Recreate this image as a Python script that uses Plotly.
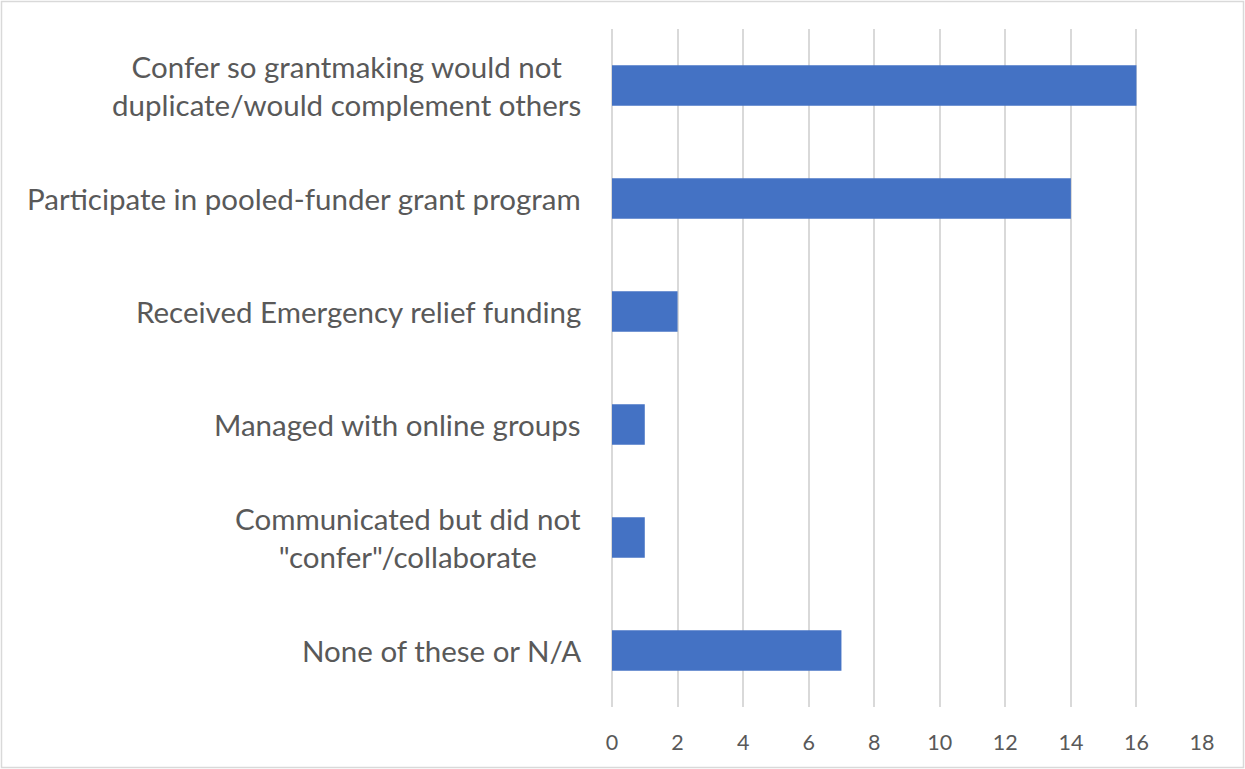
import plotly.graph_objects as go

# Данные (сверху вниз)
categories = [
    "Confer so grantmaking would not<br>duplicate/would complement others",
    "Participate in pooled-funder grant program",
    "Received Emergency relief funding",
    "Managed with online groups",
    "Communicated but did not<br>\"confer\"/collaborate",
    "None of these or N/A",
]
counts = [16, 14, 2, 1, 1, 7]
x_ticks = list(range(0, 19, 2))

W, H = 1245, 769
ML, MR, MT, MB = 612, 43, 29, 62
FONT = "Lato, 'Open Sans', sans-serif"
GREY = "#595959"

fig = go.Figure(go.Bar(
    y=categories,
    x=counts,
    orientation="h",
    marker=dict(color="#4472C4", line=dict(width=0)),
    hoverinfo="x+y",
))

# Подписи категорий (строки по центру, блок выровнен вправо)
for cat in categories:
    fig.add_annotation(
        x=0, xref="paper", y=cat, yref="y",
        text=cat, showarrow=False,
        xanchor="right", yanchor="middle", align="center",
        xshift=-29,
        font=dict(family=FONT, size=29.5, color=GREY),
    )

# Рамка вокруг всей диаграммы
pw, ph = W - ML - MR, H - MT - MB
fig.add_shape(
    type="rect", xref="paper", yref="paper",
    x0=(1.5 - ML) / pw, x1=(W - 1.5 - ML) / pw,
    y0=-(H - 1.5 - MT - ph) / ph, y1=1 + (MT - 1.5) / ph,
    line=dict(color="#D9D9D9", width=1.5),
    layer="below",
)

fig.update_layout(
    width=W, height=H,
    margin=dict(l=ML, r=MR, t=MT, b=MB),
    plot_bgcolor="white", paper_bgcolor="white",
    bargap=0.64,
    showlegend=False,
    font=dict(family=FONT, color=GREY),
    xaxis=dict(
        range=[0, 18],
        tickvals=x_ticks,
        showgrid=True, gridcolor="#D9D9D9", gridwidth=1.5,
        zeroline=True, zerolinecolor="#D9D9D9", zerolinewidth=1.5,
        showline=False,
        ticks="", ticklabelstandoff=20,
        tickfont=dict(family=FONT, size=21.5, color=GREY),
        fixedrange=True,
    ),
    yaxis=dict(
        autorange="reversed",
        showticklabels=False,
        showgrid=False, showline=False, ticks="",
        fixedrange=True,
    ),
)

# убираем стандартный отступ страницы и панель инструментов
fig.write_html("out.html", config={"displayModeBar": False},
               post_script="document.body.style.margin='0';")
